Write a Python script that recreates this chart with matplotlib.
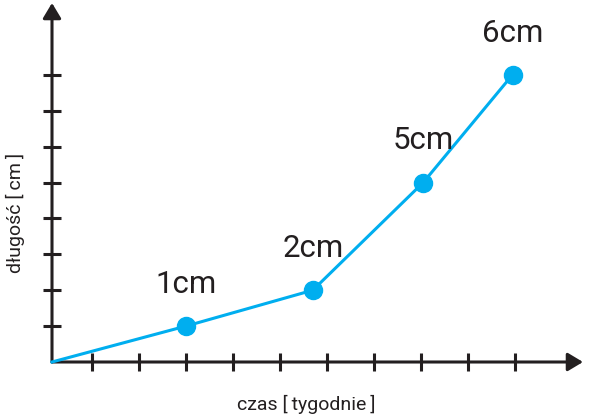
import matplotlib.pyplot as plt

plt.rcParams['font.family'] = ['Roboto', 'DejaVu Sans']

# weeks (tick units) and length (tick units) of the growth curve
weeks = [0.15, 3.0, 5.7, 8.05, 9.95]
length = [0, 1, 2, 5, 8]
labels = ['1cm', '2cm', '5cm', '6cm']
xticks = [1, 2, 3, 4, 5, 6, 7, 8, 9, 10]
yticks = [1, 2, 3, 4, 5, 6, 7, 8]

dark = '#231f20'
blue = '#00aeef'

fig = plt.figure(figsize=(5.92, 4.18), dpi=100)
ax = fig.add_axes([52 / 592, 56 / 418, 531 / 592, 359 / 418])
ax.set_xlim(0.15, 11.45)
ax.set_ylim(0, 10.0)

for s in ax.spines.values():
    s.set_visible(False)

arrow = dict(arrowstyle='-|>,head_length=0.4,head_width=0.24', lw=2.2,
             color=dark, mutation_scale=23, shrinkA=0, shrinkB=0)
ax.annotate('', xy=(1, 0), xytext=(0, 0), xycoords='axes fraction', arrowprops=arrow)
ax.annotate('', xy=(0, 1), xytext=(0, 0), xycoords='axes fraction', arrowprops=arrow)

ax.set_xticks(xticks)
ax.set_yticks(yticks)
ax.tick_params(direction='inout', length=13, width=2.2, color=dark,
               labelbottom=False, labelleft=False)

ax.plot(weeks, length, color=blue, lw=2.2, clip_on=False, zorder=3)
ax.plot(weeks[1:], length[1:], 'o', color=blue, ms=13, clip_on=False, zorder=4)

for x, y, t in zip(weeks[1:], length[1:], labels):
    ax.annotate(t, (x, y), xytext=(0, 30), textcoords='offset points',
                ha='center', va='center', fontsize=22.5, color=dark)

fig.text(306 / 592, 1 - 404 / 418, 'czas [\u2009tygodnie\u2009]', ha='center',
         va='center', fontsize=14, color=dark)
fig.text(15 / 592, 1 - 213 / 418, 'długość [\u2009cm\u2009]', ha='center',
         va='center', rotation=90, fontsize=14, color=dark)

fig.savefig('out.png', dpi=100)
